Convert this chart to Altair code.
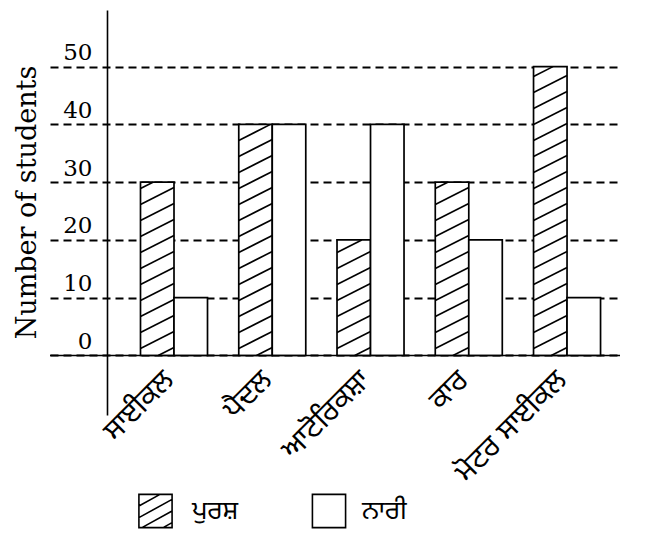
import altair as alt
import pandas as pd
import numpy as np

# ---------------- data ----------------
categories = ["ਸਾਈਕਲ", "ਪੈਦਲ", "ਆਟੋਰਿਕਸ਼ਾ", "ਕਾਰ", "ਮੋਟਰ ਸਾਈਕਲ"]
male = [30, 40, 20, 30, 50]
female = [10, 40, 40, 20, 10]
series_names = ["ਪੁਰਸ਼", "ਨਾਰੀ"]
y_ticks = [0, 10, 20, 30, 40, 50]
y_title = "Number of students"

# ---------------- layout / style ----------------
PLOT_W, PLOT_H = 570, 405
X_DOMAIN = [-1.262, 4.539]      # category index units
Y_DOMAIN = [-10.3, 59.8]
BAR_W = 0.341
PX_PER_Y = PLOT_H / (Y_DOMAIN[1] - Y_DOMAIN[0])
HATCH_RISE = 17 / PX_PER_Y       # rise across one bar (in value units)
HATCH_STEP = 16 / PX_PER_Y       # vertical spacing between hatch lines
SERIF = "DejaVu Serif"
GURMUKHI = "Noto Sans Gurmukhi, Lohit Gurmukhi, Noto Sans, sans-serif"

rows = []
for i, cat in enumerate(categories):
    rows.append({"category": cat, "idx": i, "series": series_names[0],
                 "value": male[i], "x0": i - BAR_W, "x1": i})
    rows.append({"category": cat, "idx": i, "series": series_names[1],
                 "value": female[i], "x0": i, "x1": i + BAR_W})
bars = pd.DataFrame(rows)

# hatch lines for the male bars, derived from the data
hrows = []
for i, h in enumerate(male):
    x0, x1 = i - BAR_W, i
    c = -HATCH_RISE + HATCH_STEP * 0.5
    while c < h:
        if c < 0:
            xs, ys = x0 + (-c) / HATCH_RISE * BAR_W, 0.0
        else:
            xs, ys = x0, c
        if c + HATCH_RISE > h:
            xe, ye = x0 + (h - c) / HATCH_RISE * BAR_W, float(h)
        else:
            xe, ye = x1, c + HATCH_RISE
        hrows.append({"xs": xs, "xe": xe, "ys": ys, "ye": ye})
        c += HATCH_STEP
hatch = pd.DataFrame(hrows)

labels = pd.DataFrame({"category": categories, "idx": list(range(len(categories)))})

HATCH_PATH = ("M-1,-1H1V1H-1Z M-1,-0.3L0.273,-1 M-1,0.4L1,-0.7 "
              "M-0.818,1L1,0 M0.455,1L1,0.7")
SQUARE_PATH = "M-1,-1H1V1H-1Z"
legend_paths = [HATCH_PATH, SQUARE_PATH]
LEG_SYM_X = [105.5, 279]      # legend layout (pixels inside the plot group)
LEG_TXT_X = [142, 312]
LEG_Y = 501

xscale = alt.Scale(domain=X_DOMAIN, nice=False, zero=False)
yscale = alt.Scale(domain=Y_DOMAIN, nice=False, zero=False)

yaxis = alt.Axis(
    values=y_ticks, offset=-57, grid=True, gridDash=[8, 5], gridColor="black",
    gridWidth=1.8, gridOpacity=1, domainColor="black", domainWidth=1.6, tickSize=0,
    labelPadding=15, labelFont=SERIF, labelFontSize=23, labelColor="black",
    labelBaseline="alphabetic", labelOffset=-7,
    title=y_title, titleFont=SERIF, titleFontSize=27, titleFontWeight="normal",
    titleColor="black", titleAngle=270, titleX=-80, titleY=192,
    titleAlign="center", titleBaseline="middle",
)

base_bars = alt.Chart(bars).mark_rect(fill="white", stroke="black", strokeWidth=1.7).encode(
    x=alt.X("x0:Q", scale=xscale, axis=None),
    x2="x1:Q",
    y=alt.Y("value:Q", scale=yscale, axis=yaxis),
    y2=alt.datum(0),
)

hatch_layer = alt.Chart(hatch).mark_rule(color="black", strokeWidth=1.6).encode(
    x=alt.X("xs:Q", scale=xscale, axis=None),
    x2="xe:Q",
    y=alt.Y("ys:Q", scale=yscale),
    y2="ye:Q",
)

zero_line = alt.Chart(pd.DataFrame({"z": [0]})).mark_rule(color="black", strokeWidth=1.7).encode(
    y=alt.Y("z:Q", scale=yscale),
)

text_layer = alt.Chart(labels).mark_text(
    font=GURMUKHI, fontSize=29, align="right", baseline="middle",
    angle=315, dx=-17.7, dy=10.6, color="black",
).encode(
    x=alt.X("idx:Q", scale=xscale, axis=None),
    y=alt.datum(0),
    text="category:N",
)

# legend drawn as marks
legend_layers = []
for j, name in enumerate(series_names):
    legend_layers.append(
        alt.Chart(pd.DataFrame({"series": [name]})).mark_point(
            shape=legend_paths[j], size=1100, filled=True, fill="white",
            stroke="black", strokeWidth=1.6, opacity=1,
        ).encode(x=alt.value(LEG_SYM_X[j]), y=alt.value(LEG_Y))
    )
    legend_layers.append(
        alt.Chart(pd.DataFrame({"series": [name]})).mark_text(
            font=GURMUKHI, fontSize=26, align="left", baseline="middle", color="black",
        ).encode(x=alt.value(LEG_TXT_X[j]), y=alt.value(LEG_Y), text="series:N")
    )

chart = alt.layer(
    base_bars, hatch_layer, zero_line, text_layer, *legend_layers
).properties(
    width=PLOT_W, height=PLOT_H,
    padding={"left": 42, "top": 2, "right": 10, "bottom": 118},
    autosize=alt.AutoSizeParams(type="none"),
).configure_view(stroke=None)

chart.save("out.html", embed_options={"renderer": "svg", "actions": False})
